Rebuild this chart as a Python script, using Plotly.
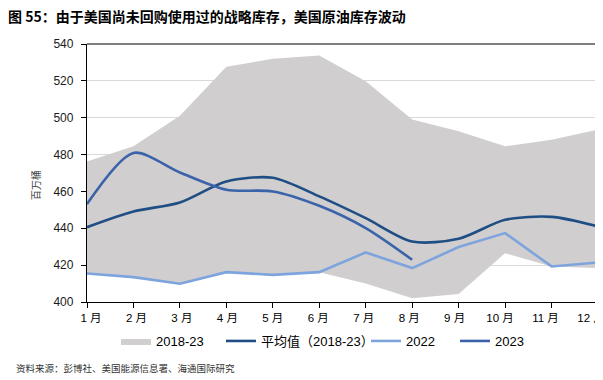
import plotly.graph_objects as go

months = ["1 月", "2 月", "3 月", "4 月", "5 月", "6 月", "7 月", "8 月", "9 月", "10 月", "11 月", "12 月"]
band_upper = [476.3, 484.5, 501.0, 527.6, 532.0, 533.7, 519.8, 499.0, 492.6, 484.5, 488.0, 493.5]
band_lower = [415.5, 413.5, 409.9, 416.2, 414.7, 416.2, 410.0, 402.0, 404.4, 426.5, 419.3, 418.4]
avg_2018_23 = [440.6, 449.1, 454.0, 465.4, 467.4, 457.3, 445.5, 432.8, 434.3, 444.6, 446.2, 441.0]
y2022 = [415.5, 413.5, 409.9, 416.2, 414.7, 416.2, 426.9, 418.4, 429.8, 437.4, 419.3, 421.4]
y2023 = [453.1, 480.9, 470.3, 460.9, 460.0, 452.2, 440.1, 422.9]

title_text = "图 55：由于美国尚未回购使用过的战略库存，美国原油库存波动"
source_text = "资料来源：彭博社、美国能源信息署、海通国际研究"
y_title = "百万桶"
yticks = [400, 420, 440, 460, 480, 500, 520, 540]

OFF = 8  # page body margin
W, H = 603 - OFF, 380 - OFF
L, R, T, B = 87 - OFF, 5, 44 - OFF, 78
pw, ph = W - L - R, H - T - B

def px_x(p):  # screenshot pixel -> paper x
    return (p - OFF - L) / pw

def px_y(p):  # screenshot pixel -> paper y
    return (H - B - (p - OFF)) / ph

BAND = "#D0CECF"
AVG = "#1F4E85"
C22 = "#7EA4DE"
C23 = "#3A63AA"
FONT = "Liberation Sans, Noto Sans CJK SC"

fig = go.Figure()
fig.add_trace(go.Scatter(x=months, y=band_lower, mode="lines", line=dict(width=0, color=BAND),
                         showlegend=False, hoverinfo="skip"))
fig.add_trace(go.Scatter(x=months, y=band_upper, mode="lines", line=dict(width=0, color=BAND),
                         fill="tonexty", fillcolor=BAND, name="2018-23", legend="legend"))
fig.add_trace(go.Scatter(x=months, y=avg_2018_23, mode="lines", name="平均值（2018-23）",
                         legend="legend2",
                         line=dict(color=AVG, width=2.6, shape="spline", smoothing=0.8)))
fig.add_trace(go.Scatter(x=months, y=y2022, mode="lines", name="2022", legend="legend3",
                         line=dict(color=C22, width=2.6)))
fig.add_trace(go.Scatter(x=months[:len(y2023)], y=y2023, mode="lines", name="2023", legend="legend4",
                         line=dict(color=C23, width=2.6, shape="spline", smoothing=0.8)))
# empty trace so the label-only axis is rendered
fig.add_trace(go.Scatter(x=[], y=[], xaxis="x2", yaxis="y", showlegend=False, hoverinfo="skip"))

def leg(text_start):
    return dict(orientation="h", x=px_x(text_start - 41), y=px_y(341), xanchor="left",
                yanchor="middle", font=dict(size=13, family=FONT, color="#000000"),
                itemwidth=30, bgcolor="rgba(0,0,0,0)")

# label axis: first label centred at px 91, last at px 591
lab0, lab1 = 91, 591
span = 11 * pw / (lab1 - lab0)
r0 = -(lab0 - 87) * span / pw

fig.update_layout(
    width=W, height=H,
    margin=dict(l=L, r=R, t=T, b=B, autoexpand=False),
    paper_bgcolor="white", plot_bgcolor="white",
    font=dict(family=FONT, size=11.5, color="#000000"),
    showlegend=True,
    legend=leg(157), legend2=leg(262), legend3=leg(407), legend4=leg(496),
    title=dict(text=title_text, xref="container", yref="container", x=0, y=1 - (17 - OFF) / H,
               xanchor="left", yanchor="middle",
               font=dict(family="Noto Sans CJK SC", size=14, color="#000000", weight="bold")),
    xaxis2=dict(overlaying="x", side="bottom", anchor="y", type="linear", range=[r0, r0 + span],
                tickvals=list(range(len(months))), ticktext=months, showgrid=False, zeroline=False,
                showline=False, ticks="", automargin=False, fixedrange=True, ticklabelstandoff=7,
                ticklabeloverflow="allow",
                tickfont=dict(size=11.5, color="#000000", family=FONT)),
    xaxis=dict(type="category", range=[0, 11], automargin=False, showgrid=False,
               showline=True, showticklabels=False,
               linecolor="#000000", linewidth=1.3, ticks="outside", ticklen=5,
               tickcolor="#000000", tickwidth=1, fixedrange=True),
)

fig.update_yaxes(range=[400, 540], tickvals=yticks, automargin=False, showgrid=True,
                 gridcolor="#D9D9D9", gridwidth=1,
                 zeroline=False, showline=True, linecolor="#000000", linewidth=1.3,
                 ticks="outside", ticklen=5, tickcolor="#000000", tickwidth=1, ticklabelstandoff=5,
                 tickfont=dict(size=12, color="#1a1a1a", family=FONT), fixedrange=True)

# gray frame (top and right)
fig.add_shape(type="line", xref="paper", yref="paper", x0=0, x1=1, y0=1, y1=1,
              line=dict(color="#7F7F7F", width=1.8))
fig.add_shape(type="line", xref="paper", yref="paper", x0=1, x1=1, y0=0, y1=1,
              line=dict(color="#7F7F7F", width=1.3))

fig.add_annotation(text=y_title, xref="paper", yref="paper", x=px_x(35), y=px_y(185),
                   textangle=-90, showarrow=False, xanchor="center", yanchor="middle",
                   font=dict(family="Noto Sans CJK SC", size=10, color="#404040"))
fig.add_annotation(text=source_text, xref="paper", yref="paper", x=px_x(14), y=px_y(368),
                   showarrow=False, xanchor="left", yanchor="middle",
                   font=dict(family="Noto Sans CJK SC", size=9.5, color="#333333"))

fig.write_html("out.html")
